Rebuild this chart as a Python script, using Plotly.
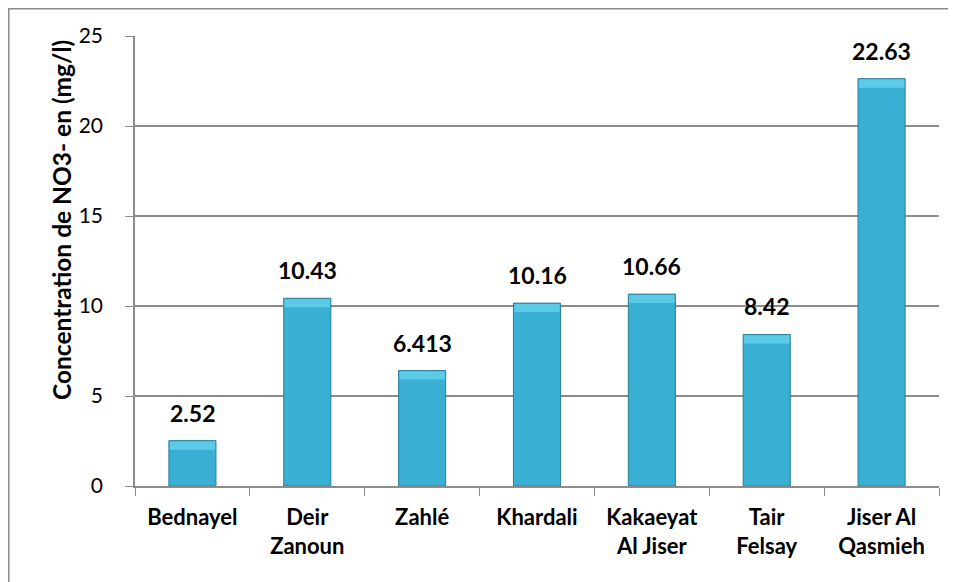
import plotly.graph_objects as go

categories = ["Bednayel", "Deir<br>Zanoun", "Zahlé", "Khardali", "Kakaeyat<br>Al Jiser", "Tair<br>Felsay", "Jiser Al<br>Qasmieh"]
values = [2.52, 10.43, 6.413, 10.16, 10.66, 8.42, 22.63]
value_labels = ["2.52", "10.43", "6.413", "10.16", "10.66", "8.42", "22.63"]
y_ticks = [0, 5, 10, 15, 20, 25]
y_title = "Concentration de NO3- en (mg/l)"

FONT = "Lato, Open Sans, sans-serif"
GRID = "#8c8c8c"

# figure is placed by the page with an 8px body margin
W, H = 948, 574
L, R, T, B = 127, 17, 28, 96
PW, PH = W - L - R, H - T - B

fig = go.Figure()
fig.add_trace(go.Bar(
    x=categories, y=values, width=0.41,
    marker=dict(color="#39b0d3", line=dict(color="#2a7f99", width=1)),
    hoverinfo="skip",
))
# lighter bevel cap on each bar
cap = 0.5
fig.add_trace(go.Bar(
    x=categories, y=[cap - 0.05] * len(values), base=[v - cap for v in values], width=0.395,
    marker=dict(color="#5ccbe8", line=dict(width=0)),
    hoverinfo="skip",
))

for c, v, t in zip(categories, values, value_labels):
    fig.add_annotation(x=c, y=v, text="<b>%s</b>" % t, showarrow=False,
                       yanchor="bottom", yshift=12,
                       font=dict(family=FONT, size=23, color="black"))

fig.add_annotation(xref="paper", yref="paper", x=(53 - L) / PW, y=(T + PH - 212) / PH,
                   text="<b>%s</b>" % y_title, textangle=-90, showarrow=False,
                   xanchor="center", yanchor="middle",
                   font=dict(family=FONT, size=24.5, color="black"))

fig.update_layout(
    width=W, height=H,
    margin=dict(l=L, r=R, t=T, b=B),
    paper_bgcolor="white", plot_bgcolor="white",
    barmode="overlay", showlegend=False,
    font=dict(family=FONT, color="black"),
    shapes=[dict(type="rect", xref="paper", yref="paper",
                 x0=(0.75 - L) / PW, x1=1.2, y0=-0.4, y1=(T + PH - 0.75) / PH,
                 line=dict(color="#8c8c8c", width=1.5), layer="below")],
)
fig.update_xaxes(
    type="category", tickson="boundaries", ticks="outside", ticklen=8,
    tickcolor=GRID, showline=True, linecolor=GRID, linewidth=1.5,
    showgrid=False, tickfont=dict(family=FONT, size=22, color="black"),
    tickvals=categories, ticktext=["<b>%s</b>" % c for c in categories],
    ticklabelstandoff=11,
)
fig.update_yaxes(
    range=[0, 25], tickvals=y_ticks, ticks="outside", ticklen=8,
    tickcolor=GRID, showline=True, linecolor=GRID, linewidth=1.5,
    showgrid=True, gridcolor=GRID, gridwidth=1.5, zeroline=False,
    tickfont=dict(family=FONT, size=21, color="black"),
    ticklabelstandoff=18,
)
fig.write_html("out.html")
